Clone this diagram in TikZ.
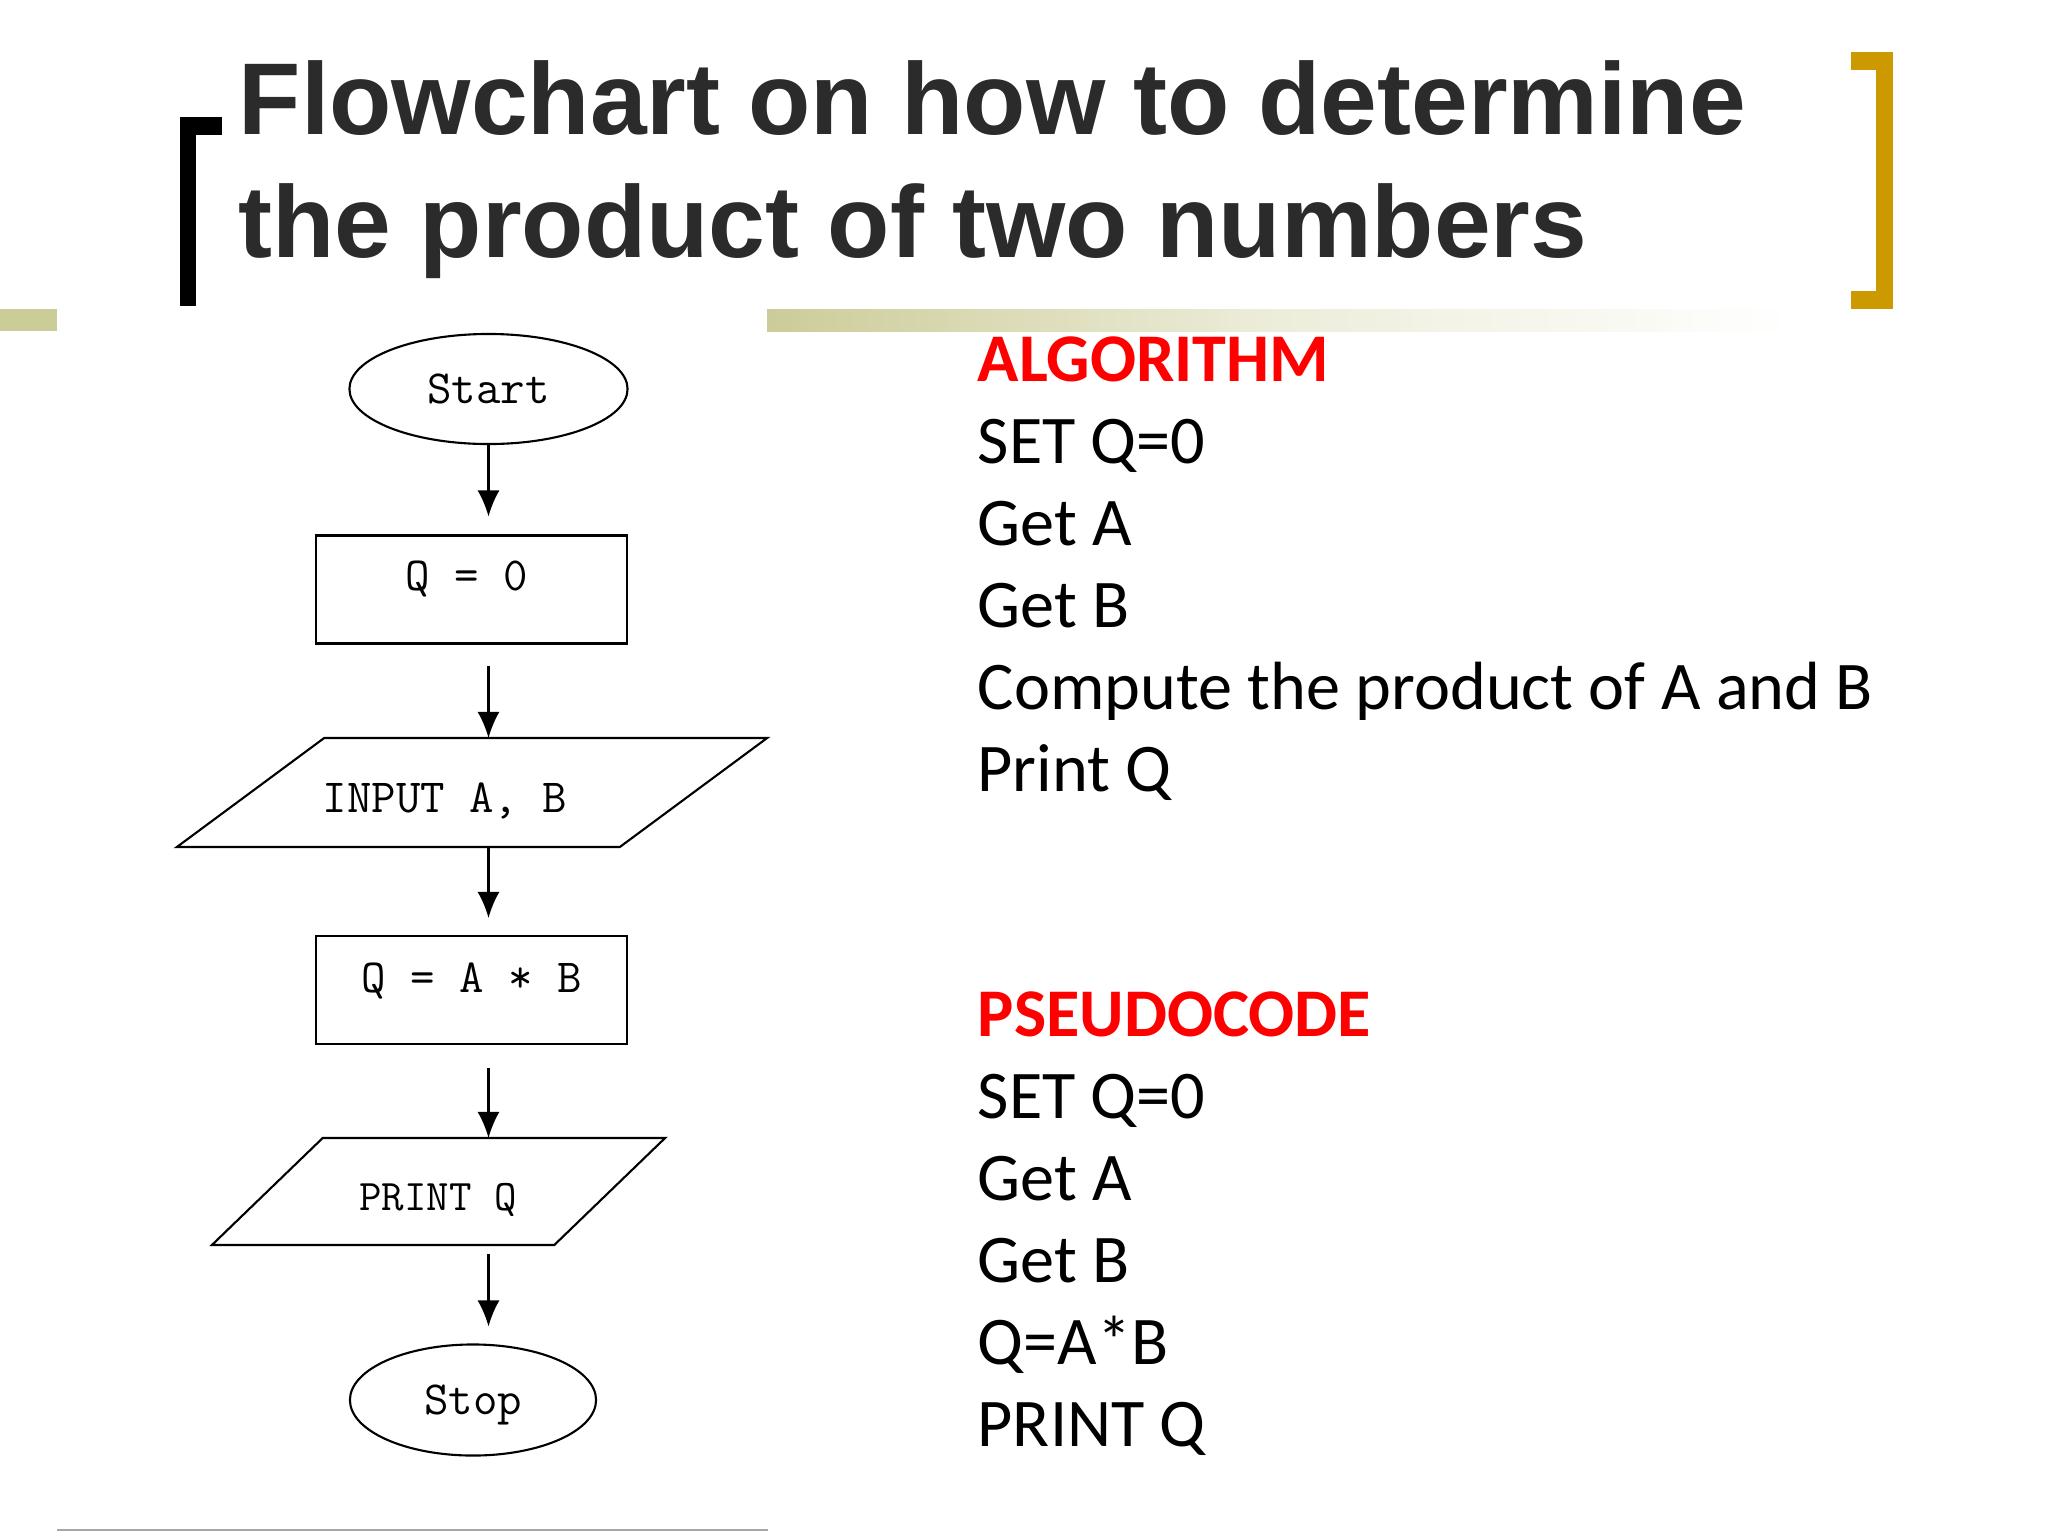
\documentclass[tikz,border=0pt]{standalone}
\usepackage{fontspec}
\setmainfont{Carlito}
\newfontfamily\ttlfont{Liberation Sans}
\usepackage{tikz}
\usetikzlibrary{shapes.geometric}
\usetikzlibrary{arrows.meta}

\definecolor{bargreen}{RGB}{204,204,153}
\definecolor{bracketgold}{RGB}{204,153,0}
\definecolor{titlegray}{RGB}{43,43,43}
\definecolor{headred}{RGB}{255,0,0}

\tikzset{
  flow/.style = {draw, line width=0.6pt, inner sep=0pt, outer sep=0pt},
  terminal/.style = {flow, ellipse, text depth=0pt, font=\ttfamily\fontsize{13.5}{15}\selectfont},
  procbox/.style = {flow, rectangle, minimum width=3.11cm, minimum height=1.08cm},
  iobox/.style = {flow, trapezium, trapezium stretches body, inner xsep=0pt},
  flowtxt/.style = {anchor=base, inner sep=0pt, font=\ttfamily\fontsize{13.5}{15}\selectfont},
  arr/.style = {-{Latex[length=0.26cm,width=0.22cm]}, line width=0.6pt},
  ttl/.style = {anchor=base west, inner sep=0pt, text=titlegray, font=\ttlfont\bfseries\fontsize{29}{34}\selectfont},
  linetxt/.style = {anchor=base west, inner sep=0pt, font=\fontsize{19.4}{23}\selectfont},
  headtxt/.style = {linetxt, text=headred, font=\bfseries\fontsize{19.4}{23}\selectfont}
}

\begin{document}
\begin{tikzpicture}[x=0.01cm, y=-0.01cm]
        \useasboundingbox (0,0) rectangle (2048,1536);
        % bar under the title
        \fill[bargreen] (0,309) rectangle (57,331);
        \shade[left color=bargreen, right color=white, middle color=bargreen!35] (767,309) rectangle (1793,331);
        % brackets
        \fill[black] (180,117) rectangle (196,306);
        \fill[black] (180,117) rectangle (222,135);
        \fill[bracketgold] (1876,52) rectangle (1893,309);
        \fill[bracketgold] (1851,52) rectangle (1893,70);
        \fill[bracketgold] (1851,291) rectangle (1893,309);
        \node[ttl] (ttlone) at (238,134) {Flowchart on how to determine};
        \node[ttl] (ttltwo) at (238,257) {the product of two numbers};

        % flowchart
        \node[terminal, minimum width=2.78cm, minimum height=1.10cm] (start) at (488.5,389) {Start};
        \node[procbox] (qzero) at (471.5,589.5) {};
        \node[flowtxt] at (467,590) {Q = 0};
        \node[iobox, trapezium left angle=36.5, trapezium right angle=143.5,
              minimum width=5.90cm, inner ysep=0.545cm] (input) at (472,792.5) {};
        \node[flowtxt] at (445,812) {INPUT A, B};
        \node[procbox] (qab) at (471.5,990) {};
        \node[flowtxt] at (472,992) {Q = A * B};
        \node[iobox, trapezium left angle=44, trapezium right angle=136,
              minimum width=4.53cm, inner ysep=0.535cm] (print) at (438.5,1191.5) {};
        \node[flowtxt, font=\ttfamily\fontsize{12.4}{14}\selectfont] at (438,1210) {PRINT Q};
        \node[terminal, minimum width=2.46cm, minimum height=1.11cm] (stop) at (473,1400) {Stop};

        \draw[arr, shorten >=0.19cm] (start.south) -- (start.south |- qzero.north);
        \draw[arr, shorten <=0.22cm] (qzero.south -| start.south) -- (input.north -| start.south);
        \draw[arr, shorten >=0.18cm] (input.south -| start.south) -- (qab.north -| start.south);
        \draw[arr, shorten <=0.24cm] (qab.south -| start.south) -- (print.north -| start.south);
        \draw[arr, shorten <=0.09cm, shorten >=0.18cm] (print.south -| start.south) -- (stop.north -| start.south);
        \draw[gray!70, line width=0.6pt] (57,1530) -- (768,1530);

        % algorithm and pseudocode
        \node[headtxt] (alg) at (977,381) {ALGORITHM};
        \node[linetxt] at (977,463) {SET Q=0};
        \node[linetxt] at (977,545) {Get A};
        \node[linetxt] at (977,627) {Get B};
        \node[linetxt] at (977,709) {Compute the product of A and B};
        \node[linetxt] at (977,791) {Print Q};
        \node[headtxt] (pseudo) at (977,1036) {PSEUDOCODE};
        \node[linetxt] at (977,1118) {SET Q=0};
        \node[linetxt] at (977,1200) {Get A};
        \node[linetxt] at (977,1282) {Get B};
        \node[linetxt] at (977,1364) {Q=A*B};
        \node[linetxt] at (977,1446) {PRINT Q};
\end{tikzpicture}
\end{document}
